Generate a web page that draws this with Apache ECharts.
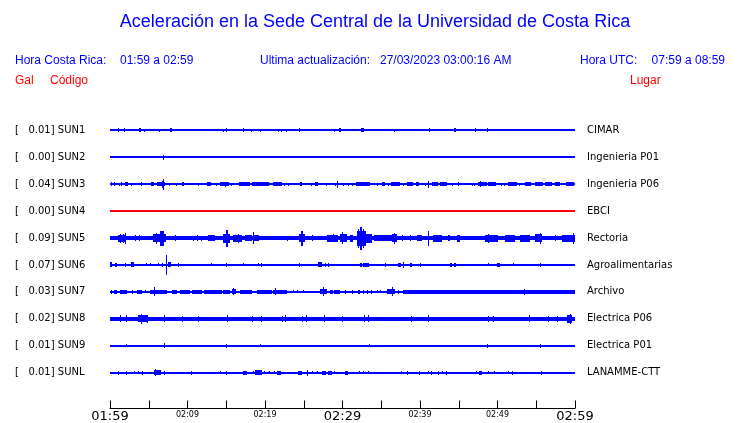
<!DOCTYPE html>
<html>
<head>
<meta charset="utf-8">
<script src="https://cdn.jsdelivr.net/npm/echarts@6/dist/echarts.min.js"></script>
<style>html,body{margin:0;padding:0;background:#fff;}#c{width:740px;height:423px;}</style>
</head>
<body>
<div id="c"></div>
<script>
// ---- data ----
const codes = ['SUN1','SUN2','SUN3','SUN4','SUN5','SUN6','SUN7','SUN8','SUN9','SUNL'];
const places = ['CIMAR','Ingenieria P01','Ingenieria P06','EBCI','Rectoria','Agroalimentarias','Archivo','Electrica P06','Electrica P01','LANAMME-CTT'];
const peakGal = ['0.01','0.00','0.04','0.00','0.09','0.07','0.03','0.02','0.01','0.01'];
const noiseAmp = [0.5,0.5,0.5,0.5,1.5,0.5,0.5,1.5,0.5,0.5];
const traceColors = ['#0000ff','#0000ff','#0000ff','#ff0000','#0000ff','#0000ff','#0000ff','#0000ff','#0000ff','#0000ff'];
const startHour = 1, startMinute = 59, spanMinutes = 60, tickStep = 5;

// events: [start minute, end minute, half amplitude]
const sun1 = [[1.08,1.08,1.5],[1.85,1.85,1.5],[3.75,3.95,1.5],[4.43,4.43,1],[6.37,6.37,0.8],[7.75,7.95,1.5],[14.62,14.62,1],[14.97,14.97,1.5],[17.2,17.35,1.5],[18.24,18.24,1],[19.4,19.4,1],[21.63,21.63,1],[22.02,22.02,1],[22.75,22.75,0.8],[24.43,24.43,1.5],[28.95,28.95,1],[29.6,29.8,1.5],[32.45,32.8,1.5],[36.69,36.69,1],[41.1,41.25,1.5],[44.4,44.6,1.5],[47.14,47.14,1.5],[48.69,48.69,1.5]];
const sun2 = [[6.88,6.88,2]];
const sun3 = [[0.13,0.13,1.5],[0.56,0.56,1.5],[1.16,1.16,1],[1.42,1.42,1.5],[1.94,2.28,1.5],[2.71,2.71,1],[4.0,4.0,1.5],[5.29,5.72,1.5],[6.02,6.7,1.5],[6.75,6.95,3],[6.88,6.88,5],[7.0,7.1,1.5],[7.61,7.61,1],[8.52,8.52,1],[9.25,9.5,1.5],[11.4,11.4,1],[12.47,13.03,1.5],[13.63,13.63,1],[14.19,15.35,1.5],[14.9,14.9,2],[15.61,15.61,1],[16.69,18.06,1.5],[18.28,20.52,1.5],[21.08,22.15,1.5],[22.45,22.45,1],[22.92,22.92,1],[24.52,24.73,1.5],[25.94,25.94,1],[26.45,26.88,1.5],[27.83,27.83,1],[29.03,29.03,1],[29.33,29.33,3],[30.11,30.11,1],[30.67,30.67,1],[31.18,31.18,1],[31.74,33.55,1.5],[34.41,34.41,1],[35.05,35.48,1.5],[35.83,35.83,1],[36.26,37.42,1.5],[37.85,37.85,1],[38.28,39.14,1.5],[39.44,39.87,1.5],[40.65,40.65,1],[40.99,40.99,3],[41.51,42.37,1.5],[42.58,43.44,1.5],[44.09,44.09,1],[44.95,44.95,1.5],[46.67,46.67,1],[47.01,47.01,1],[47.44,48.6,1.5],[47.74,47.74,2.5],[48.82,49.76,1.5],[50.45,50.45,1],[50.8,50.8,1],[51.4,52.47,1.5],[52.77,52.77,1],[53.55,54.28,1.5],[54.84,55.91,1.5],[56.13,56.99,1.5],[57.42,58.06,1.5],[58.8,59.91,1.5]];
const sun4 = [];
const sun5 = [[1.0,2.02,3],[1.29,1.29,4],[1.72,1.72,4],[1.94,1.94,5],[3.23,3.23,2.5],[3.74,3.74,2.5],[5.5,6.4,3.5],[5.9,5.9,5],[6.4,6.95,7],[6.95,7.18,3.5],[8.39,8.39,2.5],[10.75,10.75,2],[11.18,11.18,2.5],[11.74,11.74,2],[12.69,13.55,2.5],[14.62,15.48,4],[14.95,15.2,8],[15.91,16.99,3],[16.5,16.5,4],[17.42,18.28,2.5],[18.41,18.41,5.5],[18.62,19.23,2.5],[22.8,22.8,2],[24.43,25.16,3.5],[24.6,24.85,7],[26.02,26.02,2.5],[27.96,29.46,3],[28.82,28.82,3.5],[29.68,30.54,3.5],[29.9,30.1,5.5],[30.97,31.4,3],[31.83,33.0,7],[32.05,32.15,9],[32.3,32.5,11],[32.7,32.8,9],[33.0,33.76,4],[34.0,36.34,2.5],[36.34,37.0,3.5],[36.6,36.6,5],[37.63,37.63,2.5],[38.71,38.71,2.5],[39.57,40.22,2.5],[41.0,41.16,7],[41.72,42.8,3],[43.66,43.87,2.5],[44.73,45.16,3],[48.39,50.11,3],[48.82,48.82,4],[50.97,52.26,3],[52.9,54.19,3],[54.84,55.78,3.5],[55.48,55.48,5],[57.42,57.42,2.5],[58.28,59.99,3],[59.78,59.78,5]];
const sun6 = [[0,0.3,2],[0.65,0.9,1.5],[1.94,1.94,1.5],[2.71,3.05,2],[4.65,4.65,1],[5.16,5.16,1],[6.24,6.24,1],[6.75,6.75,1.5],[7.27,7.27,9.5],[7.44,7.83,2],[8.73,8.73,1.5],[13.03,13.03,1],[14.92,14.92,1.5],[17.2,17.2,1],[19.14,19.14,1],[19.44,19.44,1.5],[24.39,24.39,1.5],[26.88,27.31,2],[27.74,27.74,1.5],[28.09,28.09,1.5],[32.26,32.47,1.5],[32.69,33.42,1.5],[35.48,35.48,1.5],[37.2,37.5,1.5],[37.76,37.76,2.5],[38.71,39.01,1.5],[40.0,40.0,1.5],[43.87,44.15,1.5],[44.35,44.6,1.5],[48.73,48.73,1],[49.89,50.32,1.5],[52.04,52.04,1],[55.48,55.48,1.5]];
const sun7 = [[0.13,0.3,1.5],[0.56,0.86,1.5],[1.29,2.15,1.3],[2.8,2.8,1.3],[3.44,4.09,1.3],[4.52,4.52,1],[5.16,5.72,1.5],[5.72,5.72,4],[5.81,7.31,1.5],[7.96,8.6,1.3],[9.03,10.32,1.3],[10.54,11.83,1.5],[12.17,14.41,1.5],[14.62,15.48,1.5],[15.7,16.2,2],[15.91,15.91,3],[16.77,18.28,1.5],[18.92,20.86,1.5],[21.08,22.8,1.5],[21.29,21.29,3],[23.66,23.66,1],[24.09,24.09,1],[24.95,24.95,1],[27.1,27.96,2],[27.53,27.53,4],[28.39,28.82,1.3],[28.93,29.68,1.3],[30.32,30.32,1.3],[31.18,31.18,1.3],[32.0,32.3,1.3],[32.6,32.7,1.3],[33.2,33.3,1.3],[33.7,33.8,1.3],[34.4,34.4,1],[34.84,34.84,1],[35.7,36.77,2],[36.34,36.34,4],[37.2,37.2,1.3],[37.85,60,1.3],[53.46,53.46,2.5]];
const sun8 = [[1.29,1.29,3],[2.02,2.02,3],[3.66,4.86,3],[4.0,4.0,4.5],[4.73,4.73,3.5],[7.01,7.01,3],[9.33,9.33,2.5],[11.4,11.4,2.5],[15.05,15.05,3],[18.37,18.37,2.5],[19.44,19.44,2.5],[22.15,22.15,2.5],[22.58,22.58,3],[24.73,24.73,2.5],[25.29,25.29,3],[27.66,27.66,3],[29.89,29.89,2.5],[32.77,32.77,3],[33.33,33.33,3],[38.84,38.84,2.5],[41.08,41.08,3],[48.73,48.73,2.5],[49.46,49.46,2.5],[54.06,54.06,3],[56.56,56.56,2.5],[57.72,57.72,2.5],[58.93,59.57,3.5],[59.4,59.4,4.5]];
const sun9 = [[2.02,2.02,1],[6.92,6.92,2],[15.01,15.01,1.5],[19.4,19.4,1],[33.46,33.46,1],[48.69,48.69,1.5],[55.53,55.53,1.5]];
const sunl = [[1.08,1.08,1.5],[2.02,2.02,1.5],[3.14,3.14,0.8],[3.66,3.66,0.8],[4.09,4.09,1.5],[5.72,6.58,2],[5.8,5.8,3],[6.92,6.92,1.5],[10.45,10.45,1.5],[14.19,14.19,1],[14.92,14.92,1.5],[17.2,17.63,1.5],[18.49,18.49,1],[18.71,19.66,2],[19.83,19.83,1],[20.52,20.52,1],[21.2,21.2,1],[21.51,22.02,1.5],[24.3,24.73,1.5],[25.46,25.46,2.5],[26.11,26.11,1],[26.67,26.67,0.8],[27.31,27.83,1.5],[28.17,28.69,1.5],[28.95,28.95,1],[30.32,30.67,1.5],[32.13,32.13,1],[32.69,32.69,1],[33.25,33.25,0.8],[37.55,37.55,0.8],[38.28,38.28,1.5],[39.87,39.87,1.5],[41.08,41.08,1],[41.42,41.42,1.5],[42.37,42.37,1.5],[42.88,42.88,1],[43.31,43.31,1.5],[47.18,47.18,1],[47.61,47.96,1.5],[48.73,48.73,1],[49.5,49.5,1],[51.31,51.31,1],[51.83,51.83,1.5],[55.57,55.57,1.5]];
const stationEvents = [sun1,sun2,sun3,sun4,sun5,sun6,sun7,sun8,sun9,sunl];

const headerTexts = {
  title: 'Aceleración en la Sede Central de la Universidad de Costa Rica',
  crLabel: 'Hora Costa Rica:', crRange: '01:59 a 02:59',
  updLabel: 'Ultima actualización:', updValue: '27/03/2023 03:00:16 AM',
  utcLabel: 'Hora UTC:', utcRange: '07:59 a 08:59',
  gal: 'Gal', code: 'Código', place: 'Lugar'
};

// ---- chart ----
const ROW = 27; // axis units per row
const chart = echarts.init(document.getElementById('c'), null, {renderer: 'canvas'});

function timeLabel(v) {
  let m = startHour * 60 + startMinute + v;
  const h = Math.floor(m / 60) % 24; m = m % 60;
  return String(h).padStart(2,'0') + ':' + String(m).padStart(2,'0');
}

const series = stationEvents.map((ev, i) => {
  const rowVal = ROW * (i + 1);
  const data = [[0, spanMinutes, noiseAmp[i]]].concat(ev);
  return {
    type: 'custom',
    name: codes[i],
    coordinateSystem: 'cartesian2d',
    encode: {x: [0, 1], y: 2},
    silent: true,
    animation: false,
    data: data,
    renderItem: function (params, api) {
      const s = api.value(0), e = api.value(1), a = api.value(2);
      const p0 = api.coord([s, rowVal - a]);
      const p1 = api.coord([e, rowVal + a]);
      const x0 = Math.round(p0[0]);
      const w = Math.max(1, Math.round(p1[0]) - x0);
      const y0 = Math.floor(Math.min(p0[1], p1[1]));
      const y1 = Math.ceil(Math.max(p0[1], p1[1]));
      return {
        type: 'rect',
        shape: {x: x0, y: y0, width: w, height: Math.max(1, y1 - y0)},
        style: {fill: traceColors[i]}
      };
    }
  };
});

const yMax = 306;
function rowIndex(v) { const k = Math.round(v / ROW) - 1; return (k >= 0 && k < codes.length) ? k : -1; }

const blue = '#0000ff', red = '#ff0000';
const hFont = '"Liberation Sans", Arial, sans-serif';

chart.setOption({
  backgroundColor: '#ffffff',
  animation: false,
  grid: {left: 110, right: 165, top: 103.5, bottom: 13.5, containLabel: false},
  xAxis: {
    type: 'value', min: 0, max: spanMinutes, interval: tickStep, position: 'bottom',
    axisLine: {show: true, onZero: false, lineStyle: {color: '#000', width: 1}},
    axisTick: {show: true, inside: true, length: 8, lineStyle: {color: '#000'}},
    splitLine: {show: false},
    axisLabel: {
      margin: 1,
      formatter: function (v) {
        if (v % 30 === 0) return '{b|' + timeLabel(v) + '}';
        if (v % 10 === 0) return '{s|' + timeLabel(v) + '}';
        return '';
      },
      rich: {
        b: {fontSize: 13, fontFamily: 'DejaVu Sans', color: '#000', lineHeight: 14},
        s: {fontSize: 8, fontFamily: 'DejaVu Sans', color: '#000', lineHeight: 10}
      }
    }
  },
  yAxis: [{
    type: 'value', min: 0, max: yMax, interval: ROW, inverse: true, position: 'left',
    axisLine: {show: false}, axisTick: {show: false}, splitLine: {show: false},
    axisLabel: {
      margin: 95, align: 'left', color: '#000', fontSize: 10, fontFamily: 'DejaVu Sans',
      formatter: function (v) { const k = rowIndex(v); return k < 0 ? '' : '[   ' + peakGal[k] + '] ' + codes[k]; }
    }
  }, {
    type: 'value', min: 0, max: yMax, interval: ROW, inverse: true, position: 'right',
    axisLine: {show: false}, axisTick: {show: false}, splitLine: {show: false},
    axisLabel: {
      margin: 12, align: 'left', color: '#000', fontSize: 10, fontFamily: 'DejaVu Sans',
      formatter: function (v) { const k = rowIndex(v); return k < 0 ? '' : places[k]; }
    }
  }],
  graphic: [
    {type: 'text', x: 375, y: 22, style: {text: headerTexts.title, fill: blue, fontSize: 18, fontFamily: hFont, align: 'center', verticalAlign: 'middle'}},
    {type: 'text', x: 15, y: 61, style: {text: headerTexts.crLabel, fill: blue, fontSize: 12, fontFamily: hFont, align: 'left', verticalAlign: 'middle'}},
    {type: 'text', x: 120, y: 61, style: {text: headerTexts.crRange, fill: blue, fontSize: 12, fontFamily: hFont, align: 'left', verticalAlign: 'middle'}},
    {type: 'text', x: 260, y: 61, style: {text: headerTexts.updLabel, fill: blue, fontSize: 12, fontFamily: hFont, align: 'left', verticalAlign: 'middle'}},
    {type: 'text', x: 380, y: 61, style: {text: headerTexts.updValue, fill: blue, fontSize: 12, fontFamily: hFont, align: 'left', verticalAlign: 'middle'}},
    {type: 'text', x: 580, y: 61, style: {text: headerTexts.utcLabel, fill: blue, fontSize: 12, fontFamily: hFont, align: 'left', verticalAlign: 'middle'}},
    {type: 'text', x: 725, y: 61, style: {text: headerTexts.utcRange, fill: blue, fontSize: 12, fontFamily: hFont, align: 'right', verticalAlign: 'middle'}},
    {type: 'text', x: 15, y: 81, style: {text: headerTexts.gal, fill: red, fontSize: 12, fontFamily: hFont, align: 'left', verticalAlign: 'middle'}},
    {type: 'text', x: 50, y: 81, style: {text: headerTexts.code, fill: red, fontSize: 12, fontFamily: hFont, align: 'left', verticalAlign: 'middle'}},
    {type: 'text', x: 630, y: 81, style: {text: headerTexts.place, fill: red, fontSize: 12, fontFamily: hFont, align: 'left', verticalAlign: 'middle'}}
  ],
  series: series
});
</script>
</body>
</html>
